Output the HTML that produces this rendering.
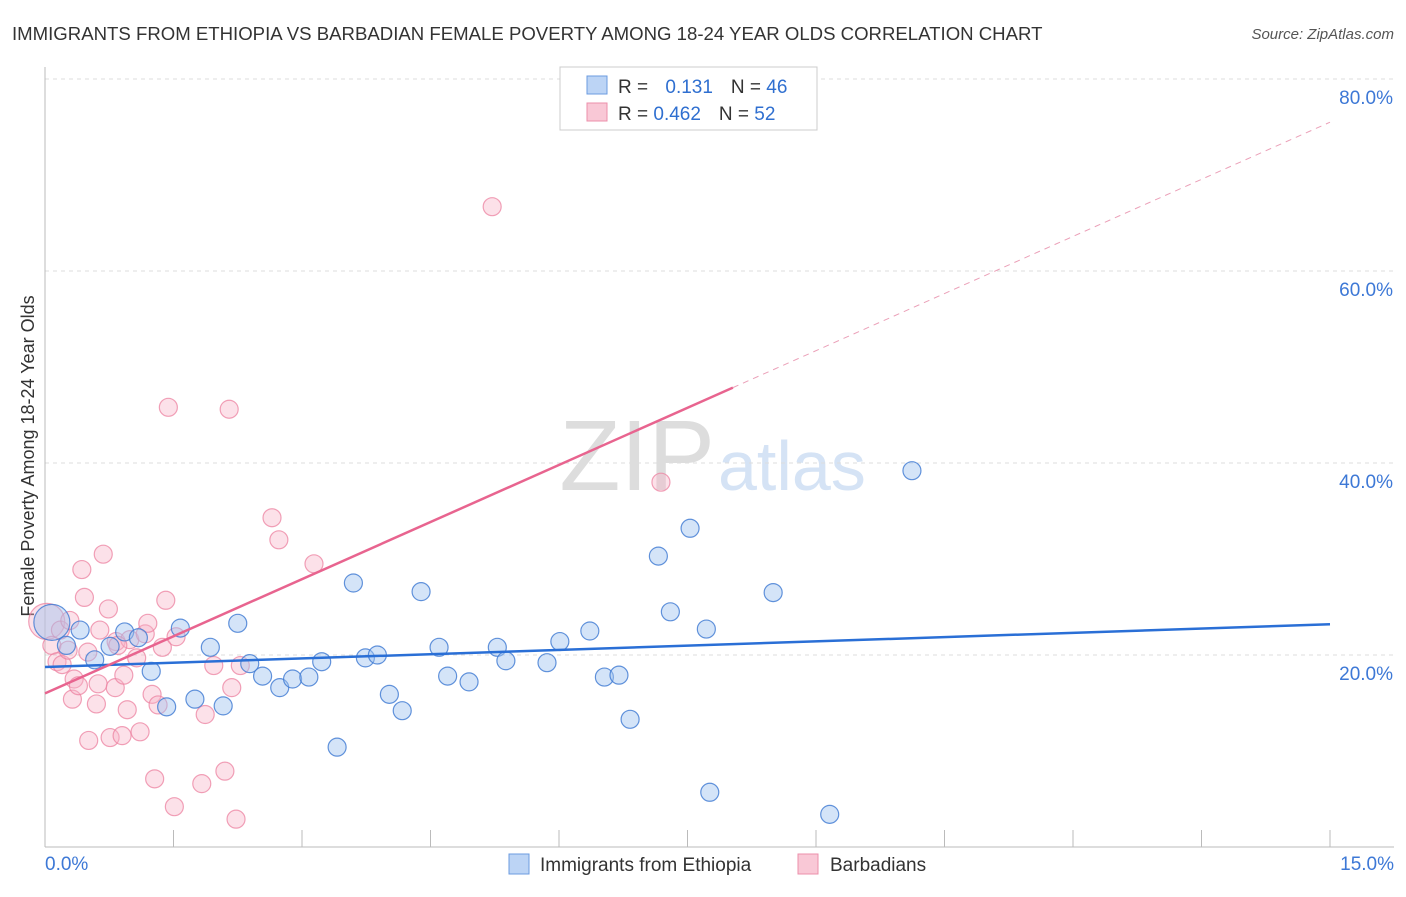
<!DOCTYPE html>
<html><head><meta charset="utf-8"><style>
body{margin:0;background:#fff;font-family:"Liberation Sans",sans-serif;}
svg text{font-family:"Liberation Sans",sans-serif;}
</style></head><body>
<svg id="chart" width="1406" height="892">
<text x="12" y="40" font-size="18.6" fill="#333">IMMIGRANTS FROM ETHIOPIA VS BARBADIAN FEMALE POVERTY AMONG 18-24 YEAR OLDS CORRELATION CHART</text>
<text x="1394" y="39" font-size="15" fill="#555" font-style="italic" text-anchor="end">Source: ZipAtlas.com</text>
<text x="34" y="456" font-size="18" fill="#333" text-anchor="middle" transform="rotate(-90 34 456)">Female Poverty Among 18-24 Year Olds</text>
<text x="715" y="490" font-size="100" fill="#ddd" text-anchor="end" font-family="Liberation Serif">ZIP</text>
<text x="718" y="490" font-size="70" fill="#d5e3f5">atlas</text>
<g id="grid"></g><g id="axes"></g><g id="marks"></g>
<g>
<rect x="560" y="67" width="257" height="63" fill="#fff" stroke="#ccc"/>
<rect x="587" y="76" width="20" height="18" fill="#bcd4f5" stroke="#6b9be0"/>
<rect x="587" y="103" width="20" height="18" fill="#f9c8d6" stroke="#ec8fab"/>
<text x="618" y="93" font-size="19" fill="#333">R = <tspan fill="#2f6fd0" dx="12">0.131</tspan><tspan fill="#333" dx="18">N = </tspan><tspan fill="#2f6fd0">46</tspan></text>
<text x="618" y="120" font-size="19" fill="#333">R = <tspan fill="#2f6fd0">0.462</tspan><tspan fill="#333" dx="18">N = </tspan><tspan fill="#2f6fd0">52</tspan></text>
</g>
<g>
<rect x="509" y="854" width="20" height="20" fill="#bcd4f5" stroke="#6b9be0"/>
<text x="540" y="871" font-size="19" fill="#333">Immigrants from Ethiopia</text>
<rect x="798" y="854" width="20" height="20" fill="#f9c8d6" stroke="#ec8fab"/>
<text x="830" y="871" font-size="19" fill="#333">Barbadians</text>
</g>
</svg>
<script>
const xTicks=[0,1.5,3,4.5,6,7.5,9,10.5,12,13.5,15];
const yTicks=[20,40,60,80];
const yTickLabels=["20.0%","40.0%","60.0%","80.0%"];
const blueX=[0.08,0.25,0.41,0.58,0.76,0.93,1.09,1.24,1.42,1.58,1.75,1.93,2.08,2.25,2.39,2.54,2.74,2.89,3.08,3.23,3.41,3.60,3.74,3.88,4.02,4.17,4.39,4.60,4.70,4.95,5.28,5.38,5.86,6.01,6.36,6.53,6.70,6.83,7.16,7.30,7.53,7.72,7.76,8.50,9.16,10.12];
const blueY=[23.4,21.0,22.6,19.5,20.9,22.4,21.8,18.3,14.6,22.8,15.4,20.8,14.7,23.3,19.1,17.8,16.6,17.5,17.7,19.3,10.4,27.5,19.7,20.0,15.9,14.2,26.6,20.8,17.8,17.2,20.8,19.4,19.2,21.4,22.5,17.7,17.9,13.3,30.3,24.5,33.2,22.7,5.7,26.5,3.4,39.2];
const pinkX=[0.02,0.08,0.14,0.20,0.27,0.32,0.34,0.39,0.43,0.46,0.50,0.51,0.60,0.62,0.68,0.64,0.74,0.76,0.82,0.83,0.90,0.92,0.96,0.99,1.07,1.11,1.17,1.20,1.25,1.28,1.32,1.37,1.41,1.44,1.51,1.83,1.87,1.97,2.10,2.15,2.18,2.23,2.28,2.65,2.73,3.14,5.22,7.19,0.18,0.29,0.85,1.53];
const pinkY=[23.5,21.0,19.3,19.0,20.5,15.4,17.5,16.8,28.9,26.0,20.3,11.1,14.9,17.0,30.5,22.6,24.8,11.4,16.6,21.4,11.6,17.9,14.3,21.6,19.7,12.0,22.2,23.3,15.9,7.1,14.8,20.8,25.7,45.8,4.2,6.6,13.8,18.9,7.9,45.6,16.6,2.9,18.9,34.3,32.0,29.5,66.7,38.0,22.6,23.6,21.0,21.9];
const blueTrend=[18.75,23.2];
const pinkTrend=[16.0,75.5];
const pinkSolidEnd=8.03;
const NS="http://www.w3.org/2000/svg";
const X=v=>45+v*(1330-45)/15;
const Y=v=>847-v*9.6;
function mk(t,a,p){const e=document.createElementNS(NS,t);for(const k in a)e.setAttribute(k,a[k]);p.appendChild(e);return e;}
const grid=document.getElementById('grid'),axes=document.getElementById('axes'),marks=document.getElementById('marks');
yTicks.forEach((v,i)=>{
 const l=mk('line',{x1:45,x2:1394,y1:Y(v),y2:Y(v),stroke:'#ddd','stroke-dasharray':'4 4'},grid);
 
 
 const t=mk('text',{x:1393,y:Y(v)+25,'font-size':19,fill:'#3d78d6','text-anchor':'end'},axes);
 t.textContent=yTickLabels[i];
 
 
});
mk('line',{x1:45,x2:45,y1:67,y2:847,stroke:'#bbb'},axes);
mk('line',{x1:45,x2:1394,y1:847,y2:847,stroke:'#bbb'},axes);
xTicks.forEach(v=>{
 const l=mk('line',{x1:X(v),x2:X(v),y1:830,y2:847,stroke:'#bbb'},axes);
 
 
});
const t0=mk('text',{x:45,y:870,'font-size':19,fill:'#3d78d6'},axes);t0.textContent='0.0%';


const t1=mk('text',{x:1394,y:870,'font-size':19,fill:'#3d78d6','text-anchor':'end'},axes);t1.textContent='15.0%';


function pts(xs,ys,fill,stroke,name){xs.forEach((x,i)=>{
 const c=mk('circle',{cx:X(x),cy:Y(ys[i]),r:i===0?18:9,fill:fill,stroke:stroke,'stroke-width':1.2},marks);
 
 
});}
pts(pinkX,pinkY,'rgba(248,180,200,0.4)','rgba(236,130,160,0.75)','barbadian-point');
pts(blueX,blueY,'rgba(160,195,240,0.45)','rgba(60,120,210,0.8)','ethiopia-point');
const pt=x=>pinkTrend[0]+(pinkTrend[1]-pinkTrend[0])*x/15;
const bl=mk('line',{x1:X(0),y1:Y(blueTrend[0]),x2:X(15),y2:Y(blueTrend[1]),stroke:'#2a6fd6','stroke-width':2.5},marks);


const pl=mk('line',{x1:X(0),y1:Y(pt(0)),x2:X(pinkSolidEnd),y2:Y(pt(pinkSolidEnd)),stroke:'#e8648f','stroke-width':2.5},marks);


const pd=mk('line',{x1:X(pinkSolidEnd),y1:Y(pt(pinkSolidEnd)),x2:X(15),y2:Y(pt(15)),stroke:'#eba0b8','stroke-width':1,'stroke-dasharray':'6 5'},marks);


</script>
</body></html>
